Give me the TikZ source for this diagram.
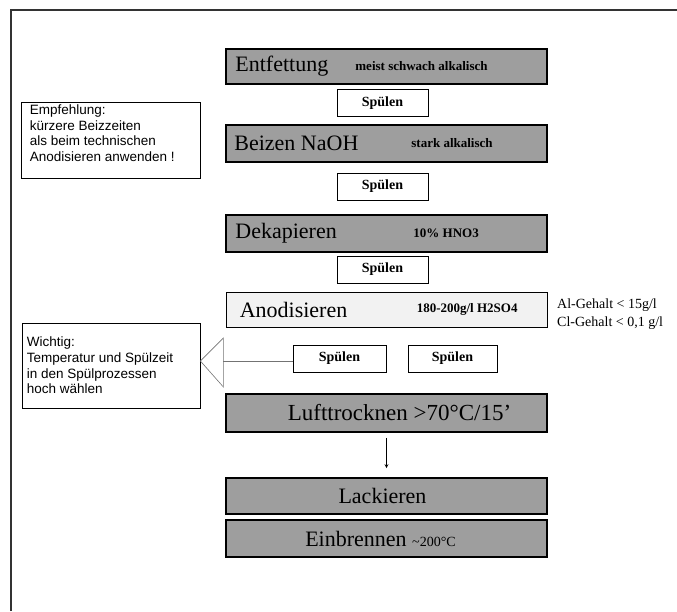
\documentclass[tikz,border=0pt]{standalone}
\usepackage{fontspec}
\setmainfont{Liberation Serif}
\newfontfamily\notefont{Liberation Sans}
\usepackage{tikz}
\usetikzlibrary{arrows,positioning}

\begin{document}
\begin{tikzpicture}[
    x=1pt, y=-1pt,
    stage/.style={rectangle, draw=black, line width=1.6pt, fill=black!38, minimum width=321pt, minimum height=36pt, inner sep=0pt},
    lightstage/.style={stage, line width=0.8pt, fill=black!5},
    rinse/.style={rectangle, draw=black, line width=1pt, fill=white, minimum width=91pt, minimum height=27pt, font=\fontsize{14}{16}\selectfont\bfseries},
    mainlbl/.style={anchor=west, inner sep=0pt, font=\fontsize{22}{26}\selectfont},
    chem/.style={anchor=west, inner sep=0pt, font=\fontsize{13}{15}\selectfont\bfseries},
    memo/.style={rectangle, draw=black, line width=0.8pt},
    memotext/.style={anchor=north west, inner sep=0pt, align=left, font=\notefont\fontsize{13.5}{15.7}\selectfont},
    callout/.style={draw=black!55, line width=0.6pt},
    arrow/.style={->, >=stealth, line width=0.8pt}
]
    \useasboundingbox (0,0) rectangle (677,611);
    \draw[line width=1.5pt, black!80] (11,611) -- (11,10) -- (677,10);

    % Process chain
    \node[stage, minimum height=35pt] (entf) at (386.5,66.5) {};
    \node[rinse] (sp1) at (382.5,103) {Spülen};
    \node[stage, minimum height=37pt] (beiz) at (386.5,143.5) {};
    \node[rinse] (sp2) at (382.5,186.5) {Spülen};
    \node[stage, minimum height=37pt] (deka) at (386.5,233.5) {};
    \node[rinse] (sp3) at (382.5,269.5) {Spülen};
    \node[lightstage, minimum height=35pt] (anod) at (386.5,309.5) {};
    \node[rinse, minimum width=93pt] (spL) at (339.5,358.5) {Spülen};
    \node[rinse, minimum width=89pt] (spR) at (452.5,358.5) {Spülen};
    \node[stage, minimum height=38pt] (luft) at (386.5,413) {};
    \node[stage] (lack) at (386.5,496) {};
    \node[stage, minimum height=37pt] (einb) at (386.5,538.5) {};

    % Labels in the baths
    \node[mainlbl] (entfL) at ([xshift=10pt]entf.west) {Entfettung};
    \node[chem] (entfN) at ([xshift=130pt]entf.west) {meist schwach alkalisch};
    \node[mainlbl] (beizL) at ([xshift=9pt]beiz.west) {Beizen NaOH};
    \node[chem] (beizN) at ([xshift=186pt]beiz.west) {stark alkalisch};
    \node[mainlbl] (dekaL) at ([xshift=10pt]deka.west) {Dekapieren};
    \node[chem] (dekaN) at ([xshift=188pt]deka.west) {10\% HNO3};
    \node[mainlbl] (anodL) at ([xshift=14pt]anod.west) {Anodisieren};
    \node[chem] (anodN) at ([xshift=191pt]anod.west) {180-200g/l H2SO4};
    \node[mainlbl, anchor=center, font=\fontsize{23}{27}\selectfont] (luftL) at ([xshift=13pt]luft.center) {Lufttrocknen >70°C/15'};
    \node[mainlbl, anchor=center] (lackL) at ([xshift=-4pt]lack.center) {Lackieren};
    \node[mainlbl, anchor=center] (einbL) at ([xshift=-6pt]einb.center) {Einbrennen {\fontsize{14}{16}\selectfont\textasciitilde200°C}};

    % Limits
    \node[anchor=west, inner sep=0pt, align=left, font=\fontsize{14}{18}\selectfont] (limits) at (557,314) {Al-Gehalt < 15g/l\\Cl-Gehalt < 0,1 g/l};

    % Notes
    \node[memo, minimum width=179pt, minimum height=76pt] (empf) at (110.5,140) {};
    \node[memotext] (empfT) at ([shift={(9,3)}]empf.north west) {Empfehlung:\\kürzere Beizzeiten\\als beim technischen\\Anodisieren anwenden !};
    \node[memo, minimum width=178pt, minimum height=85pt] (wicht) at (111,365.5) {};
    \node[memotext, anchor=west] (wichtT) at ([xshift=5pt]wicht.west) {Wichtig:\\Temperatur und Spülzeit\\in den Spülprozessen\\hoch wählen};

    % Connectors
    \coordinate (tipW) at ([yshift=4.5pt]wicht.east);
    \coordinate (baseT) at ([shift={(23,-23)}]tipW);
    \coordinate (baseB) at ([shift={(23,26)}]tipW);
    \coordinate (baseM) at ([xshift=23pt]tipW);
    \draw[callout] (tipW) -- (baseT) -- (baseB) -- cycle;
    \draw[callout] (baseM) -- (baseM -| spL.west);
    \draw[arrow, shorten <=5pt, shorten >=9pt] (luft) -- (lack);
\end{tikzpicture}
\end{document}
